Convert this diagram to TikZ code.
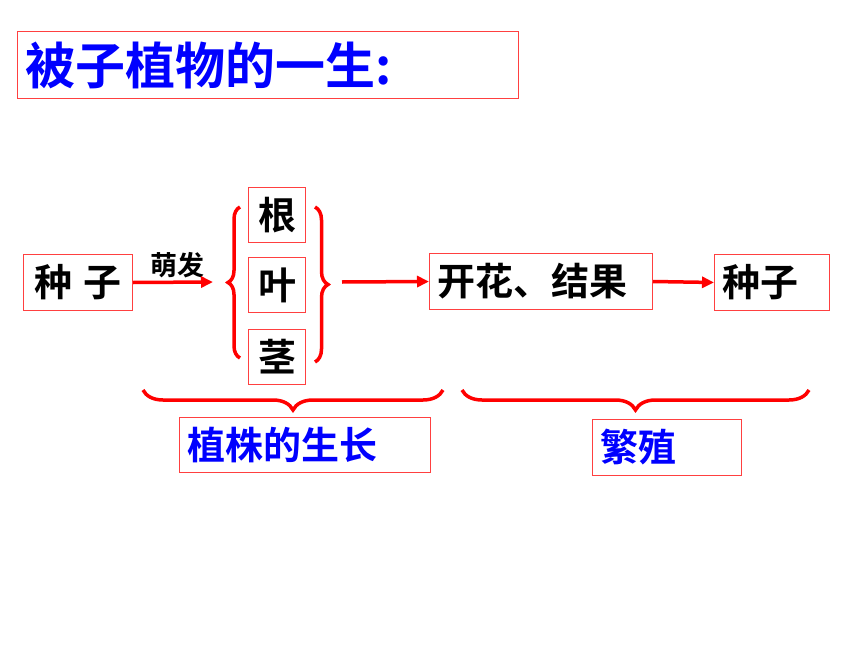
\documentclass[tikz,border=0pt]{standalone}
\usepackage{fontspec}
\setmainfont{Noto Sans CJK SC}[BoldFont={Noto Sans CJK SC Bold}]
\usetikzlibrary{arrows.meta,decorations.pathreplacing}

\begin{document}
\begin{tikzpicture}[
	x=1pt, y=-1pt,
	kuang/.style = {draw=red!75, line width=1pt, anchor=north west,
	inner xsep=8pt, inner ysep=0pt,
	font=\bfseries\fontsize{38}{40}\selectfont},
	lanzi/.style = {text=blue},
	jiantou/.style = {-{Triangle[length=12pt,width=11pt]}, draw=red, line width=3.5pt},
	kuohao/.style = {draw=red, line width=3.5pt, decorate,
	decoration={brace, amplitude=#1}}
]
\useasboundingbox (0,0) rectangle (860,645);
\node[kuang, lanzi, align=left, text width=485pt, minimum height=67pt,
	font=\bfseries\fontsize{50}{52}\selectfont] (biaoti) at (17,31) {被子植物的一生:};
\node[kuang, align=center, text width=93pt, minimum height=56pt] (zhongzi) at (23,254) {种\hspace{12pt}子};
\node[kuang, align=center, text width=41pt, minimum height=55pt] (gen) at (248,187) {根};
\node[kuang, align=center, text width=41pt, minimum height=55pt] (ye) at (248,257) {叶};
\node[kuang, align=center, text width=41pt, minimum height=55pt] (jing) at (248,329) {茎};
\node[kuang, align=left, text width=207pt, minimum height=56pt] (kaihua) at (429,253) {开花、结果};
\node[kuang, align=left, text width=99pt, minimum height=56pt] (zhongzi2) at (714,254) {种子};
\node[kuang, lanzi, align=left, text width=235pt, minimum height=55pt] (shengzhang) at (179,417) {植株的生长};
\node[kuang, lanzi, align=left, text width=133pt, minimum height=56pt] (fanzhi) at (592,419) {繁殖};
\node[font=\bfseries\fontsize{27}{28}\selectfont] (mengfa) at (177,265) {萌发};
% braces
\coordinate (zuoxia) at (240,358);
\coordinate (zuoshang) at (240,207);
\coordinate (youshang) at (315,207);
\coordinate (youxia) at (315,362);
\draw[kuohao=12pt] (zuoxia) -- (zuoshang);
\draw[kuohao=13pt] (youshang) -- (youxia);
\coordinate (zhangyou) at (443,390);
\coordinate (zhangzuo) at (143,390);
\coordinate (fanyou) at (809,390);
\coordinate (fanzuo) at (462,390);
\draw[kuohao=20pt] (zhangyou) -- (zhangzuo);
\draw[kuohao=20pt] (fanyou) -- (fanzuo);
% arrows
\coordinate (zuojian) at (213,282);
\coordinate (youjian) at (342,282);
\draw[jiantou] (zhongzi.east) -- (zuojian);
\draw[jiantou] (youjian) -- (kaihua.west);
\draw[jiantou] (kaihua.east) -- (zhongzi2.west);
\end{tikzpicture}
\end{document}
